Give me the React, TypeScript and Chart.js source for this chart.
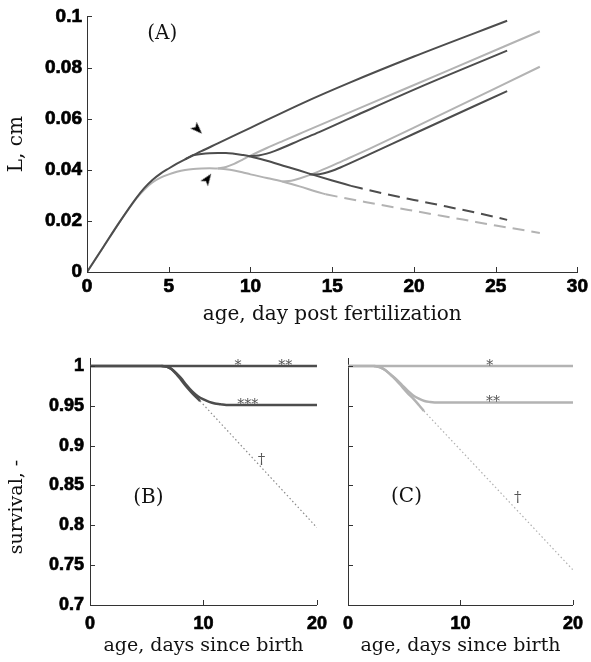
import React, { useEffect, useRef } from 'react';
import { Chart, registerables } from 'chart.js';

Chart.register(...registerables);

type P = [number, number];

// ---------- Panel (A): length vs age ----------
const aXTicks = [0, 5, 10, 15, 20, 25, 30];
const aYTicks = [0, 0.02, 0.04, 0.06, 0.08, 0.1];

const aDarkFed: P[] = [
  [0, 0], [1, 0.0098], [2, 0.0196], [3, 0.0288], [3.5, 0.0328], [4, 0.036], [4.5, 0.0385],
  [5, 0.0405], [5.5, 0.0424], [6, 0.0441], [6.5, 0.0457], [7, 0.0473], [8, 0.0503],
  [10, 0.0564], [13.2, 0.0661], [16, 0.0739], [20, 0.0843], [25.7, 0.0983],
];
const aDarkStarve: P[] = [
  [6, 0.0441], [6.5, 0.0457], [7, 0.0462], [7.5, 0.0465], [8, 0.0466], [8.5, 0.0466],
  [9, 0.0463], [9.5, 0.0458], [10, 0.0452], [11, 0.0435], [12, 0.0416], [13, 0.0397],
  [14, 0.0377], [15, 0.0358], [16.15, 0.0337],
];
const aDarkStarveDash: P[] = [
  [16.15, 0.0337], [18, 0.0309], [20, 0.0282], [22, 0.0256], [24, 0.0229], [25.7, 0.0204],
];
const aDarkRefeed1: P[] = [
  [9.9, 0.0453], [10.5, 0.0456], [11, 0.0463], [11.5, 0.0474], [12, 0.0487], [13, 0.0515],
  [14.2, 0.0547], [17, 0.0628], [20.5, 0.0727], [25.7, 0.0866],
];
const aDarkRefeed2: P[] = [
  [13.6, 0.0382], [14, 0.0381], [14.5, 0.0386], [15, 0.0396], [15.5, 0.0409], [16, 0.0423],
  [17.3, 0.0461], [20, 0.0541], [25.7, 0.0708],
];
const aGrayTrunk: P[] = [
  [0, 0], [1, 0.0098], [2, 0.0196], [3, 0.0286], [3.5, 0.0322], [4, 0.035], [4.5, 0.0369],
  [5, 0.0382], [5.5, 0.0392], [6, 0.0399], [6.5, 0.0403], [7, 0.0405], [7.5, 0.0406], [8, 0.0405],
];
const aGrayStarve: P[] = [
  [8, 0.0405], [8.5, 0.0402], [9, 0.0397], [9.5, 0.039], [10, 0.0382], [11, 0.0368],
  [12, 0.0353], [13, 0.0335], [14, 0.0315], [14.6, 0.0304],
];
const aGrayStarveDash: P[] = [
  [14.6, 0.0304], [17, 0.0274], [20, 0.0239], [23, 0.0205], [25, 0.0182], [27.7, 0.0153],
];
const aGrayRefeed1: P[] = [
  [8, 0.0405], [8.5, 0.0411], [9, 0.0423], [9.5, 0.0439], [10, 0.0455], [11, 0.0485],
  [12, 0.0513], [13.2, 0.0546], [17, 0.065], [22, 0.0786], [27.7, 0.0942],
];
const aGrayRefeed2: P[] = [
  [11.95, 0.0354], [12.5, 0.0357], [13, 0.0366], [14, 0.0389], [15, 0.0416], [16, 0.0445],
  [17.3, 0.0483], [20, 0.0565], [27.7, 0.0803],
];
const aArrows: P[] = [[6.77, 0.0558], [7.38, 0.0365]];
const aArrowRotation = [135, 35];

// ---------- Panels (B) and (C): survival ----------
const survXTicks = [0, 10, 20];
const survYTicks = [0.7, 0.75, 0.8, 0.85, 0.9, 0.95, 1];

const bTop: P[] = [[0, 1], [20, 1]];
const bRecover: P[] = [
  [0, 1], [6.3, 1], [6.8, 0.999], [7.2, 0.996], [7.6, 0.991], [8, 0.985], [8.5, 0.976],
  [9, 0.968], [9.5, 0.962], [10, 0.958], [10.5, 0.955], [11, 0.953], [11.5, 0.952],
  [12, 0.951], [20, 0.951],
];
const bDeclineSolid: P[] = [
  [6.3, 1], [6.8, 0.999], [7.2, 0.996], [7.6, 0.99], [8, 0.983], [8.5, 0.974], [9, 0.966], [9.7, 0.956],
];
const bDeclineDotted: P[] = [[9.7, 0.956], [20, 0.797]];

const cTop: P[] = [[0, 1], [20, 1]];
const cRecover: P[] = [
  [0, 1], [2.3, 1], [2.8, 0.9985], [3.3, 0.995], [3.8, 0.989], [4.3, 0.983], [4.8, 0.976],
  [5.3, 0.969], [5.8, 0.963], [6.3, 0.959], [6.8, 0.956], [7.3, 0.9548], [8, 0.954], [20, 0.954],
];
const cDeclineSolid: P[] = [
  [2.3, 1], [2.8, 0.9985], [3.3, 0.995], [3.8, 0.989], [4.3, 0.982], [4.8, 0.974],
  [5.3, 0.966], [5.8, 0.959], [6.3, 0.951], [6.75, 0.9435],
];
const cDeclineDotted: P[] = [[6.75, 0.9435], [20, 0.744]];

// annotation labels: [text, x, y]
const aNotes: [string, number, number][] = [['(A)', 4.6, 0.093]];
const bNotes: [string, number, number][] = [
  ['*', 13.05, 1.0], ['**', 17.2, 1.0], ['***', 13.9, 0.951], ['†', 15.1, 0.882], ['(B)', 5.15, 0.835],
];
const cNotes: [string, number, number][] = [
  ['*', 12.6, 1.0], ['**', 12.9, 0.954], ['†', 15.1, 0.834], ['(C)', 5.2, 0.836],
];

const DARK = '#4d4d4d';
const LIGHT = '#b3b3b3';
const AXIS = '#333333';
const TEXT = '#111111';
const SERIF = 'DejaVu Serif';
const SANS = 'Liberation Sans';

function line(data: P[], color: string, width: number, dash: number[] = []) {
  return {
    type: 'line',
    data: data.map(([x, y]) => ({ x, y })),
    borderColor: color,
    borderWidth: width,
    borderDash: dash,
    pointRadius: 0,
    fill: false,
    cubicInterpolationMode: 'monotone',
  };
}

const fmt = (v: any) => String(Number(Number(v).toFixed(3)));

const inwardTicks = {
  id: 'inwardTicks',
  afterDraw(chart: any) {
    const { ctx, chartArea } = chart;
    const xs = chart.scales.x;
    const ys = chart.scales.y;
    ctx.save();
    ctx.strokeStyle = AXIS;
    ctx.lineWidth = 1;
    ctx.beginPath();
    xs.ticks.forEach((t: any) => {
      const px = Math.round(xs.getPixelForValue(t.value)) + 0.5;
      ctx.moveTo(px, chartArea.bottom);
      ctx.lineTo(px, chartArea.bottom - 5);
    });
    ys.ticks.forEach((t: any) => {
      const py = Math.round(ys.getPixelForValue(t.value)) + 0.5;
      ctx.moveTo(chartArea.left, py);
      ctx.lineTo(chartArea.left + 5, py);
    });
    ctx.stroke();
    ctx.restore();
  },
};

function notesPlugin(notes: [string, number, number][], extra?: (ctx: CanvasRenderingContext2D) => void) {
  return {
    id: 'notes',
    afterDraw(chart: any) {
      const { ctx } = chart;
      const xs = chart.scales.x;
      const ys = chart.scales.y;
      ctx.save();
      ctx.textAlign = 'center';
      ctx.textBaseline = 'middle';
      notes.forEach(([text, x, y]) => {
        const isParen = text.startsWith('(');
        const isStar = text.startsWith('*');
        ctx.fillStyle = isParen ? TEXT : '#555555';
        ctx.font = isParen ? `20px "${SERIF}"` : isStar ? `14px "${SERIF}"` : `15px "${SERIF}"`;
        ctx.fillText(text, xs.getPixelForValue(x), ys.getPixelForValue(y));
      });
      if (extra) extra(ctx);
      ctx.restore();
    },
  };
}

interface PanelSpec {
  w: number; h: number;
  area: { l: number; t: number; r: number; b: number };
  xMin: number; xMax: number; xTicks: number[];
  yMin: number; yMax: number; yTicks: number[];
  xTitle: string; xTitlePad: number;
  yTitle?: string; yTitlePad?: number;
  showYLabels: boolean;
  tickSize: number; titleSize: number;
  xLabelPad: number; yLabelPad: number;
}

function makeOptions(s: PanelSpec) {
  const tickFont = { family: SANS, size: s.tickSize, weight: 700 };
  const titleFont = { family: SERIF, size: s.titleSize, weight: 400 };
  const tickCommon = {
    font: tickFont,
    color: '#000',
    textStrokeColor: '#000',
    textStrokeWidth: 0.7,
    autoSkip: false,
    callback: fmt,
  };
  return {
    animation: false,
    responsive: false,
    devicePixelRatio: 1,
    layout: { padding: { left: 0, top: s.area.t, right: s.w - s.area.r, bottom: 0 } },
    plugins: { legend: { display: false }, tooltip: { enabled: false } },
    scales: {
      x: {
        type: 'linear',
        min: s.xMin,
        max: s.xMax,
        afterBuildTicks: (sc: any) => { sc.ticks = s.xTicks.map((v) => ({ value: v })); },
        afterFit: (sc: any) => { sc.height = s.h - s.area.b; },
        grid: { display: false, drawTicks: false },
        border: { display: true, color: AXIS, width: 1 },
        ticks: { ...tickCommon, padding: s.xLabelPad, maxRotation: 0 },
        title: { display: true, text: s.xTitle, font: titleFont, color: TEXT, padding: { top: 0, bottom: s.xTitlePad } },
      },
      y: {
        type: 'linear',
        min: s.yMin,
        max: s.yMax,
        afterBuildTicks: (sc: any) => { sc.ticks = s.yTicks.map((v) => ({ value: v })); },
        afterFit: (sc: any) => { sc.width = s.area.l; },
        grid: { display: false, drawTicks: false },
        border: { display: true, color: AXIS, width: 1 },
        ticks: { ...tickCommon, display: s.showYLabels, padding: s.yLabelPad },
        title: s.yTitle
          ? { display: true, text: s.yTitle, font: titleFont, color: TEXT, padding: { top: s.yTitlePad ?? 0, bottom: 0 } }
          : { display: false },
      },
    },
  };
}

function makeArrowCanvas() {
  const c = document.createElement('canvas');
  c.width = 9;
  c.height = 12;
  const g = c.getContext('2d')!;
  g.fillStyle = '#000';
  g.beginPath();
  g.moveTo(4.5, 0);
  g.lineTo(9, 12);
  g.lineTo(4.5, 9);
  g.lineTo(0, 12);
  g.closePath();
  g.fill();
  return c;
}

export default function App() {
  const refA = useRef<HTMLCanvasElement>(null);
  const refB = useRef<HTMLCanvasElement>(null);
  const refC = useRef<HTMLCanvasElement>(null);

  useEffect(() => {
    const arrow = makeArrowCanvas();

    const chartA = new Chart(refA.current!, {
      type: 'line',
      data: {
        datasets: [
          {
            type: 'scatter',
            data: aArrows.map(([x, y]) => ({ x, y })),
            pointStyle: arrow,
            pointRotation: aArrowRotation,
            pointRadius: 5,
            showLine: false,
          } as any,
          line(aDarkFed, DARK, 2),
          line(aDarkStarve, DARK, 2),
          line(aDarkStarveDash, DARK, 2, [12, 7]),
          line(aDarkRefeed1, DARK, 2),
          line(aDarkRefeed2, DARK, 2),
          line(aGrayTrunk, LIGHT, 2),
          line(aGrayStarve, LIGHT, 2),
          line(aGrayStarveDash, LIGHT, 2, [12, 7]),
          line(aGrayRefeed1, LIGHT, 2),
          line(aGrayRefeed2, LIGHT, 2),
        ] as any,
      },
      options: makeOptions({
        w: 591, h: 330, area: { l: 87, t: 12, r: 579, b: 272 },
        xMin: 0, xMax: 30, xTicks: aXTicks,
        yMin: 0, yMax: 0.1, yTicks: aYTicks,
        xTitle: 'age, day post fertilization', xTitlePad: 3,
        yTitle: 'L, cm', yTitlePad: 5,
        showYLabels: true, tickSize: 19, titleSize: 20,
        xLabelPad: 3, yLabelPad: 5,
      }) as any,
      plugins: [inwardTicks, notesPlugin(aNotes)],
    });

    const chartB = new Chart(refB.current!, {
      type: 'line',
      data: {
        datasets: [
          line(bTop, DARK, 2.5),
          line(bRecover, DARK, 2.5),
          line(bDeclineSolid, DARK, 2.5),
          line(bDeclineDotted, '#8a8a8a', 1.2, [1.5, 2.5]),
        ] as any,
      },
      options: makeOptions({
        w: 335, h: 332, area: { l: 90, t: 28, r: 323, b: 275 },
        xMin: 0, xMax: 20, xTicks: survXTicks,
        yMin: 0.7, yMax: 1.01, yTicks: survYTicks,
        xTitle: 'age, days since birth', xTitlePad: 5,
        showYLabels: true, tickSize: 18, titleSize: 19,
        xLabelPad: 8, yLabelPad: 6,
      }) as any,
      plugins: [
        inwardTicks,
        notesPlugin(bNotes, (ctx) => {
          ctx.save();
          ctx.translate(17, 177);
          ctx.rotate(-Math.PI / 2);
          ctx.font = `19px "${SERIF}"`;
          ctx.fillStyle = TEXT;
          ctx.textAlign = 'center';
          ctx.textBaseline = 'middle';
          ctx.fillText('survival, -', 0, 0);
          ctx.restore();
        }),
      ],
    });

    const chartC = new Chart(refC.current!, {
      type: 'line',
      data: {
        datasets: [
          line(cTop, LIGHT, 2.5),
          line(cRecover, LIGHT, 2.5),
          line(cDeclineSolid, LIGHT, 2.5),
          line(cDeclineDotted, '#b0b0b0', 1.2, [1.5, 2.5]),
        ] as any,
      },
      options: makeOptions({
        w: 256, h: 332, area: { l: 11, t: 28, r: 245, b: 275 },
        xMin: 0, xMax: 20, xTicks: survXTicks,
        yMin: 0.7, yMax: 1.01, yTicks: survYTicks,
        xTitle: 'age, days since birth', xTitlePad: 5,
        showYLabels: false, tickSize: 18, titleSize: 19,
        xLabelPad: 8, yLabelPad: 6,
      }) as any,
      plugins: [inwardTicks, notesPlugin(cNotes)],
    });

    return () => {
      chartA.destroy();
      chartB.destroy();
      chartC.destroy();
    };
  }, []);

  return (
    <div style={{ position: 'absolute', left: 0, top: 0, width: 591, height: 662, background: '#fff' }}>
      <canvas ref={refA} width={591} height={330} style={{ position: 'absolute', left: 0, top: 0 }} />
      <canvas ref={refB} width={335} height={332} style={{ position: 'absolute', left: 0, top: 330 }} />
      <canvas ref={refC} width={256} height={332} style={{ position: 'absolute', left: 335, top: 330 }} />
    </div>
  );
}
